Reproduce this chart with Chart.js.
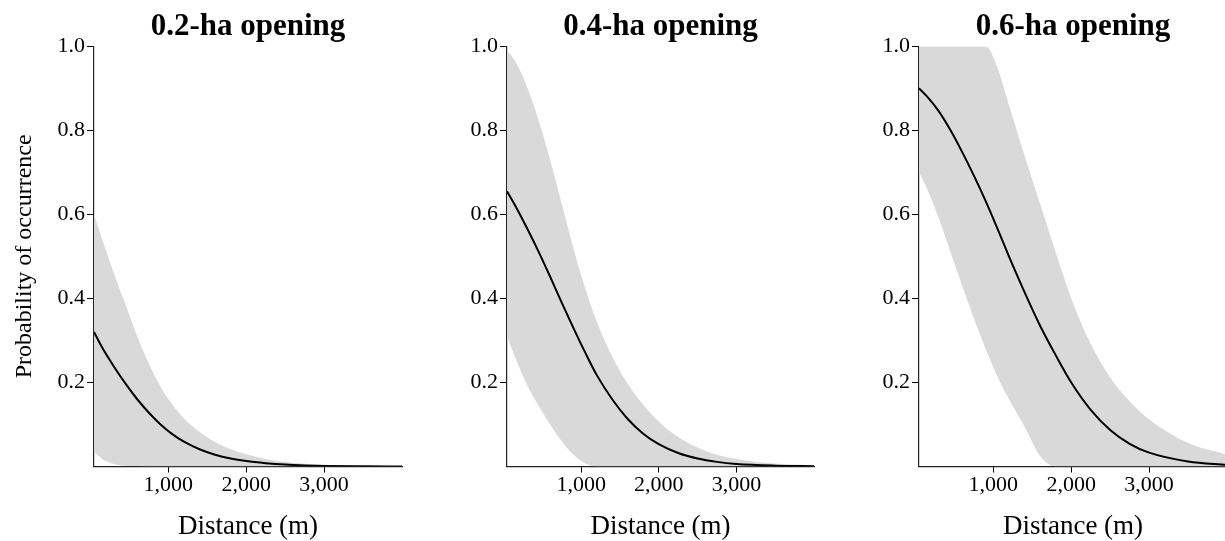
<!DOCTYPE html>
<html>
<head>
<meta charset="utf-8">
<script src="https://cdn.jsdelivr.net/npm/chart.js@4.4.1/dist/chart.umd.min.js"></script>
<style>
  html, body { margin: 0; padding: 0; background: #fff; overflow: hidden; width: 1225px; height: 541px; }
  canvas { position: absolute; top: 0; }
</style>
</head>
<body>
<canvas id="panel1" width="413" height="541" style="left:0px"></canvas>
<canvas id="panel2" width="413" height="541" style="left:412px"></canvas>
<canvas id="panel3" width="413" height="541" style="left:825px"></canvas>
<script>
// --- Data ---
const distance = [45, 150, 300, 450, 600, 750, 900, 1050, 1200, 1400, 1600, 1800, 2000, 2250, 2500, 2750, 3000, 3500, 4000];
const xTicks = [1000, 2000, 3000];
const yTicks = [0.2, 0.4, 0.6, 0.8, 1.0];
const panelTitles = ['0.2-ha opening', '0.4-ha opening', '0.6-ha opening'];

// 0.2-ha opening
const mean02  = [0.32, 0.283, 0.238, 0.197, 0.160, 0.128, 0.100, 0.077, 0.059, 0.041, 0.028, 0.019, 0.013, 0.008, 0.0045, 0.0025, 0.0013, 0.0005, 0.0002];
const upper02 = [0.60, 0.54, 0.46, 0.385, 0.31, 0.245, 0.19, 0.148, 0.114, 0.082, 0.058, 0.041, 0.029, 0.018, 0.011, 0.0065, 0.004, 0.0015, 0.0005];
const lower02 = [0.035, 0.018, 0.006, 0.002, 0.001, 0, 0, 0, 0, 0, 0, 0, 0, 0, 0, 0, 0, 0, 0];

// 0.4-ha opening
const mean04  = [0.655, 0.621, 0.568, 0.512, 0.452, 0.39, 0.33, 0.272, 0.218, 0.16, 0.113, 0.078, 0.053, 0.032, 0.019, 0.011, 0.006, 0.002, 0.0007];
const upper04 = [0.99, 0.965, 0.905, 0.825, 0.73, 0.625, 0.52, 0.425, 0.345, 0.262, 0.197, 0.147, 0.107, 0.07, 0.045, 0.028, 0.018, 0.007, 0.0025];
const lower04 = [0.31, 0.26, 0.195, 0.145, 0.10, 0.06, 0.028, 0.008, 0, 0, 0, 0, 0, 0, 0, 0, 0, 0, 0];

// 0.6-ha opening
const mean06  = [0.90, 0.88, 0.845, 0.80, 0.748, 0.692, 0.632, 0.567, 0.50, 0.415, 0.335, 0.265, 0.20, 0.135, 0.087, 0.054, 0.033, 0.012, 0.004];
const upper06 = [1, 1, 1, 1, 1, 1, 1, 0.95, 0.86, 0.74, 0.625, 0.51, 0.40, 0.292, 0.212, 0.155, 0.112, 0.056, 0.028];
const lower06 = [0.70, 0.66, 0.59, 0.51, 0.43, 0.352, 0.28, 0.215, 0.16, 0.095, 0.025, 0, 0, 0, 0, 0, 0, 0, 0];

const SERIF = "'Liberation Serif', 'Times New Roman', serif";

function points(values) {
    return distance.map((d, i) => ({ x: d, y: values[i] }));
}

function makePanel(canvasId, title, mean, upper, lower, showYTitle, yAxisWidth) {
    const ctx = document.getElementById(canvasId).getContext('2d');
    return new Chart(ctx, {
        type: 'line',
        data: {
            datasets: [
                {
                    // mean curve (index 0 is drawn on top)
                    data: points(mean),
                    borderColor: '#000',
                    borderWidth: 2,
                    pointRadius: 0,
                    fill: false,
                    cubicInterpolationMode: 'monotone'
                },
                {
                    // upper confidence limit, filled down to the lower limit
                    data: points(upper),
                    borderWidth: 0,
                    borderColor: 'rgba(0,0,0,0)',
                    backgroundColor: '#d9d9d9',
                    pointRadius: 0,
                    fill: '+1',
                    cubicInterpolationMode: 'monotone'
                },
                {
                    data: points(lower),
                    borderWidth: 0,
                    borderColor: 'rgba(0,0,0,0)',
                    pointRadius: 0,
                    fill: false,
                    cubicInterpolationMode: 'monotone'
                }
            ]
        },
        options: {
            responsive: false,
            animation: false,
            layout: { padding: { left: 0, right: 11, top: 0, bottom: 0 } },
            plugins: {
                legend: { display: false },
                tooltip: { enabled: false },
                title: {
                    display: true,
                    fullSize: false,
                    text: title,
                    color: '#000',
                    font: { family: SERIF, size: 31, weight: 'bold' },
                    padding: { top: 8, bottom: 1 }
                }
            },
            scales: {
                x: {
                    type: 'linear',
                    min: 45,
                    max: 4000,
                    afterBuildTicks: s => { s.ticks = xTicks.map(v => ({ value: v })); },
                    afterFit: s => { s.height = 74.5; },
                    grid: { drawOnChartArea: false, drawTicks: true, tickLength: 6, color: '#000' },
                    border: { display: true, color: '#222', width: 1.2 },
                    ticks: {
                        color: '#000',
                        padding: 0,
                        maxRotation: 0,
                        font: { family: SERIF, size: 22 },
                        callback: v => v.toLocaleString('en-US')
                    },
                    title: {
                        display: true,
                        text: 'Distance (m)',
                        color: '#000',
                        font: { family: SERIF, size: 27, lineHeight: 1.05 },
                        padding: { top: 0, bottom: 0 }
                    }
                },
                y: {
                    min: 0,
                    max: 1,
                    afterBuildTicks: s => { s.ticks = yTicks.map(v => ({ value: v })); },
                    afterFit: s => { s.width = yAxisWidth; },
                    grid: { drawOnChartArea: false, drawTicks: true, tickLength: 7, color: '#000' },
                    border: { display: true, color: '#222', width: 1.2 },
                    ticks: {
                        color: '#000',
                        padding: 2,
                        font: { family: SERIF, size: 22 },
                        callback: v => v.toFixed(1)
                    },
                    title: {
                        display: showYTitle,
                        text: 'Probability of occurrence',
                        color: '#000',
                        font: { family: SERIF, size: 24 },
                        padding: { top: 10, bottom: 0 }
                    }
                }
            }
        }
    });
}

makePanel('panel1', panelTitles[0], mean02, upper02, lower02, true, 94);
makePanel('panel2', panelTitles[1], mean04, upper04, lower04, false, 95);
makePanel('panel3', panelTitles[2], mean06, upper06, lower06, false, 94);
</script>
</body>
</html>
